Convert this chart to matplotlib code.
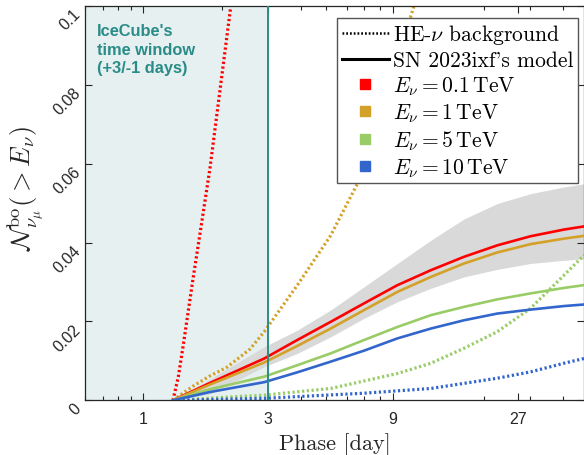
import matplotlib
matplotlib.use("Agg")
import matplotlib.pyplot as plt
from matplotlib.lines import Line2D
from matplotlib.ticker import FixedLocator, LogLocator, NullFormatter
import numpy as np

plt.rcParams['mathtext.fontset'] = 'cm'

# SN 2023ixf breakout-model neutrino counts (phase in days)
t_model = [1.3, 1.8, 2.90, 3.88, 5.20, 6.98, 9.35, 12.55, 16.8, 22.5, 30.1, 40.4, 48.2]
n_01tev = [0, 0.0044, 0.0106, 0.0153, 0.0199, 0.0246, 0.0292, 0.0330, 0.0364, 0.0393, 0.0416, 0.0433, 0.0441]
n_1tev = [0, 0.0040, 0.0096, 0.0138, 0.0182, 0.0229, 0.0275, 0.0313, 0.0347, 0.0375, 0.0396, 0.0410, 0.0417]
n_5tev = [0, 0.0028, 0.0060, 0.0089, 0.0119, 0.0153, 0.0186, 0.0216, 0.0237, 0.0256, 0.0271, 0.0285, 0.0292]
n_10tev = [0, 0.0021, 0.0046, 0.0071, 0.0098, 0.0126, 0.0157, 0.0182, 0.0203, 0.0220, 0.0230, 0.0239, 0.0243]
band_lo = [0, 0.0016, 0.0085, 0.0119, 0.0161, 0.0208, 0.0250, 0.0284, 0.0313, 0.0332, 0.0347, 0.0355, 0.0359]
band_hi = [0, 0.0054, 0.0136, 0.0178, 0.0229, 0.0288, 0.0347, 0.0406, 0.0460, 0.0499, 0.0524, 0.0541, 0.0549]

# HE-nu background expectation
t_bg_01 = [1.30, 1.363, 1.421, 1.552, 1.651, 1.801, 1.965, 2.147, 2.35]
bg_01 = [0, 0.006, 0.0137, 0.031, 0.0425, 0.059, 0.0786, 0.0985, 0.118]
t_bg_1 = [1.30, 1.552, 1.801, 2.092, 2.56, 2.90, 3.88, 5.20, 6.68, 10.7, 11.5]
bg_1 = [0, 0.0036, 0.0062, 0.0084, 0.013, 0.0174, 0.0292, 0.0418, 0.0558, 0.099, 0.106]
t_bg_5 = [1.30, 2.35, 2.90, 5.20, 9.35, 12.55, 16.8, 22.5, 30.1, 40.4, 48.2]
bg_5 = [0, 0.0010, 0.0013, 0.0030, 0.0068, 0.0094, 0.0132, 0.0174, 0.0233, 0.0317, 0.0368]
t_bg_10 = [1.30, 2.90, 6.98, 12.55, 22.5, 30.1, 40.4, 48.2]
bg_10 = [0, 0.0005, 0.0018, 0.0030, 0.0056, 0.0072, 0.0094, 0.0106]

labels = [r'$E_\nu = 0.1\,\mathrm{TeV}$', r'$E_\nu = 1\,\mathrm{TeV}$',
          r'$E_\nu = 5\,\mathrm{TeV}$', r'$E_\nu = 10\,\mathrm{TeV}$']
colors = ['#ff0000', '#d4a128', '#99cc66', '#3366cc']

window_end = 3.0
teal = '#2a8c88'
axcol = '#262626'

fig = plt.figure(figsize=(5.84, 4.56), dpi=100)
ax = fig.add_axes([85/584, 1-401.3/456, 1-85/584, (401.3-7)/456])
ax.set_xscale('log')
ax.set_xlim(0.6, 48.2)
ax.set_ylim(0, 0.1)

# IceCube window
ax.axvspan(0.6, window_end, color='#e6f0f0', zorder=0)

ax.fill_between(t_model, band_lo, band_hi, color='#d9d9d9', lw=0, zorder=1)

for t, y, c in zip([t_bg_01, t_bg_1, t_bg_5, t_bg_10], [bg_01, bg_1, bg_5, bg_10], colors):
    ax.plot(t, y, color=c, lw=2.3, ls=(0, (0.7, 0.8)), zorder=2)
for y, c in zip([n_01tev, n_1tev, n_5tev, n_10tev], colors):
    ax.plot(t_model, y, color=c, lw=1.9, zorder=3)

ax.axvline(window_end, color=teal, lw=1.4, zorder=4)

fig.text(97/584, 1-24/456, "IceCube's\ntime window\n(+3/-1 days)", color=teal,
         fontsize=11.8, fontweight='bold', family='Liberation Sans',
         va='top', ha='left', linespacing=1.3)

# axes styling
ax.xaxis.set_major_locator(FixedLocator([1, 3, 9, 27]))
ax.set_xticklabels(['1', '3', '9', '27'])
ax.xaxis.set_minor_locator(LogLocator(base=10, subs=np.arange(2, 10)))
ax.xaxis.set_minor_formatter(NullFormatter())
ax.set_yticks([0, 0.02, 0.04, 0.06, 0.08, 0.1])
ax.set_yticklabels(['0', '0.02', '0.04', '0.06', '0.08', '0.1'])
ax.tick_params(which='both', direction='in', top=True, right=True, color=axcol,
               labelcolor=axcol, labelsize=11.5)
ax.tick_params(which='major', length=5, width=0.8)
ax.tick_params(which='minor', length=3, width=0.8)
ax.tick_params(axis='x', pad=8)
ax.tick_params(axis='y', pad=1)
for lab in ax.get_xticklabels() + ax.get_yticklabels():
    lab.set_family('Liberation Sans')
for lab in ax.get_yticklabels():
    lab.set_rotation(45)
    lab.set_ha('right')
    lab.set_va('top')
for s in ax.spines.values():
    s.set_color(axcol)
    s.set_linewidth(0.9)

ax.set_xlabel('Phase [day]', family='cmr10', fontsize=16, color=axcol, labelpad=4)
ax.set_ylabel(r'$\mathcal{N}^{\rm bo}_{\nu_\mu}(> E_\nu)$', fontsize=19, color=axcol)
ax.yaxis.set_label_coords(-0.078, 0.54)

# legend
handles = [Line2D([], [], color='k', lw=1.8, ls=(0, (0.7, 0.8))),
           Line2D([], [], color='k', lw=2.2)]
handles += [Line2D([], [], ls='none', marker='s', ms=7, color=c) for c in colors]
leg_labels = ['HE-$\\nu$ background', "SN 2023ixf's model"] + labels
leg = ax.legend(handles, leg_labels, loc='upper right',
                bbox_to_anchor=(578/584, 1-19/456), bbox_transform=fig.transFigure,
                prop={'family': 'cmr10', 'size': 15.5}, fancybox=False,
                edgecolor='#555555', framealpha=1, borderaxespad=0,
                handlelength=2.2, handletextpad=0.2, labelspacing=0.2,
                borderpad=0.2)
leg.get_frame().set_linewidth(1.0)

fig.savefig('out.png', dpi=100)
